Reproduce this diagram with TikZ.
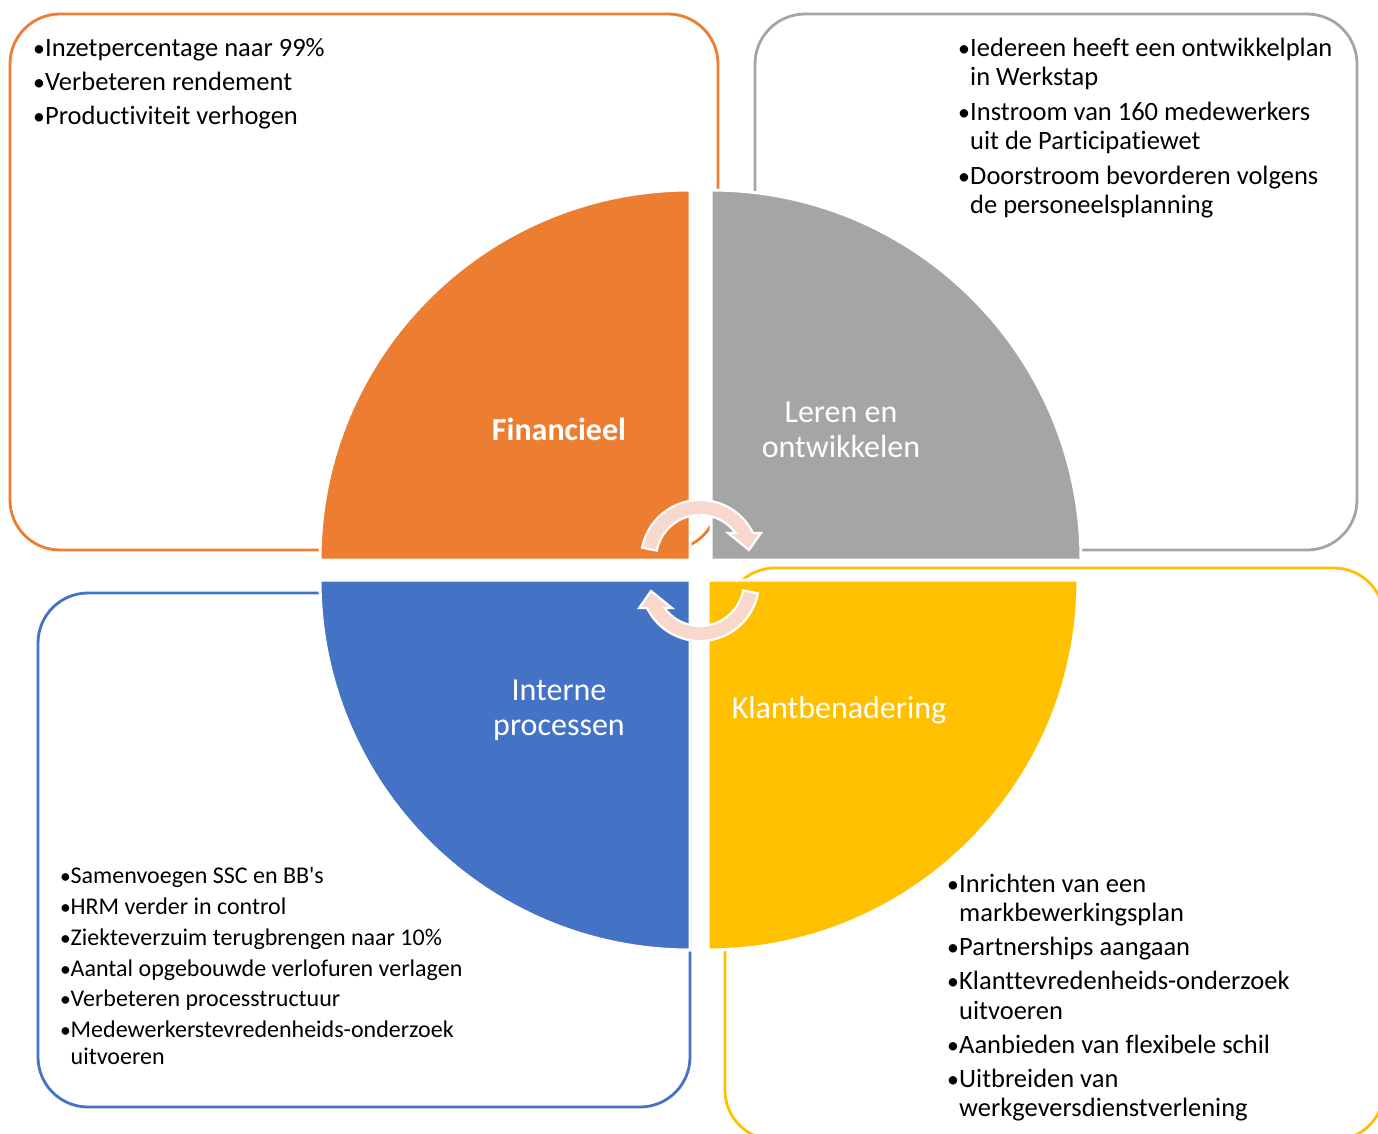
\documentclass[tikz,border=0pt]{standalone}
\usepackage{fontspec}
\setmainfont{Carlito}[Ligatures={TeX,NoCommon}]
\usetikzlibrary{calc}
\definecolor{corange}{HTML}{ED7D31}
\definecolor{cgray}{HTML}{A5A5A5}
\definecolor{cblue}{HTML}{4472C4}
\definecolor{cyellow}{HTML}{FFC000}
\definecolor{carrow}{HTML}{F8D7CC}
\newcommand{\bulA}{\makebox[12pt][l]{\scalebox{0.9}{•}}}
\newcommand{\bulB}{\makebox[10.5pt][l]{\scalebox{0.9}{•}}}
\begin{document}
\begin{tikzpicture}[x=1pt,y=-1pt,
  boxline/.style={line width=2.8pt, rounded corners=50pt},
  quad/.style={draw=white, line width=3pt},
  lstA/.style={anchor=base west, inner sep=0pt, font=\fontsize{26.5}{29}\selectfont},
  lstB/.style={anchor=base west, inner sep=0pt, font=\fontsize{24}{27}\selectfont},
  lab/.style={text=white, align=center, inner sep=0pt, font=\fontsize{32}{35}\selectfont},
  circarrow/.style={fill=carrow, draw=white, line width=2.2pt, line join=miter}]
\useasboundingbox (0,0) rectangle (1378,1133);
\clip (0,0) rectangle (1378,1133);
\fill[white] (0,0) rectangle (1378,1133);

% outer boxes
\draw[boxline, corange] (10,14) rectangle (718,550);
\draw[boxline, cgray] (755,14) rectangle (1357,550);
\draw[boxline, cblue] (38,593) rectangle (690,1107);
\draw[boxline, cyellow] (725,568) rectangle (1384,1140);

% quadrants
\path[quad, fill=corange] (690,560) -- (320,560) arc[start angle=180, end angle=270, radius=370] -- cycle;
\path[quad, fill=cgray] (711,560) -- (711,190) arc[start angle=270, end angle=360, radius=370] -- cycle;
\path[quad, fill=cblue] (690,580) -- (320,580) arc[start angle=180, end angle=90, radius=370] -- cycle;
\path[quad, fill=cyellow] (708,580) -- (1078,580) arc[start angle=0, end angle=90, radius=370] -- cycle;

% circular arrows
\path[circarrow] (642.1,547.7) arc[start angle=-169, end angle=-26, radius=59]
  -- (761,533) -- (749,550) -- (728,533) -- (735.6,533.1)
  arc[start angle=-36, end angle=-169, radius=44] -- cycle;
\begin{scope}[rotate around={180:(700,570.5)}]
\path[circarrow] (642.1,547.7) arc[start angle=-169, end angle=-26, radius=59]
  -- (761,533) -- (749,550) -- (728,533) -- (735.6,533.1)
  arc[start angle=-36, end angle=-169, radius=44] -- cycle;
\end{scope}

% quadrant labels
\node[lab, font=\fontsize{32}{35}\selectfont\bfseries] (fin) at (559,429) {Financieel};
\node[lab] (ler) at (841,430) {Leren en\\ontwikkelen};
\node[lab] (int) at (559,710) {Interne\\processen};
\node[lab] (kla) at (839,710) {Klantbenadering};

% orange list
\node[lstA] (o1) at (33,56) {\bulA Inzetpercentage naar 99\%};
\node[lstA] (o2) at (33,90) {\bulA Verbeteren rendement};
\node[lstA] (o3) at (33,124) {\bulA Productiviteit verhogen};

% gray list
\node[lstA] (g1) at (958,56) {\bulA Iedereen heeft een ontwikkelplan};
\node[lstA] (g1b) at (970,85) {in Werkstap};
\node[lstA] (g2) at (958,120) {\bulA Instroom van 160 medewerkers};
\node[lstA] (g2b) at (970,149) {uit de Participatiewet};
\node[lstA] (g3) at (958,184) {\bulA Doorstroom bevorderen volgens};
\node[lstA] (g3b) at (970,213) {de personeelsplanning};

% yellow list
\node[lstA] (y1) at (947,892) {\bulA Inrichten van een};
\node[lstA] (y1b) at (959,921) {markbewerkingsplan};
\node[lstA] (y2) at (947,955) {\bulA Partnerships aangaan};
\node[lstA] (y3) at (947,989) {\bulA Klanttevredenheids-onderzoek};
\node[lstA] (y3b) at (959,1019) {uitvoeren};
\node[lstA] (y4) at (947,1053) {\bulA Aanbieden van flexibele schil};
\node[lstA] (y5) at (947,1087) {\bulA Uitbreiden van};
\node[lstA] (y5b) at (959,1116) {werkgeversdienstverlening};

% blue list
\node[lstB] (b1) at (60,883) {\bulB Samenvoegen SSC en BB\textquotesingle s};
\node[lstB] (b2) at (60,914) {\bulB HRM verder in control};
\node[lstB] (b3) at (60,945) {\bulB Ziekteverzuim terugbrengen naar 10\%};
\node[lstB] (b4) at (60,976) {\bulB Aantal opgebouwde verlofuren verlagen};
\node[lstB] (b5) at (60,1006) {\bulB Verbeteren processtructuur};
\node[lstB] (b6) at (60,1037) {\bulB Medewerkerstevredenheids-onderzoek};
\node[lstB] (b6b) at (70.5,1064) {uitvoeren};
\end{tikzpicture}
\end{document}
